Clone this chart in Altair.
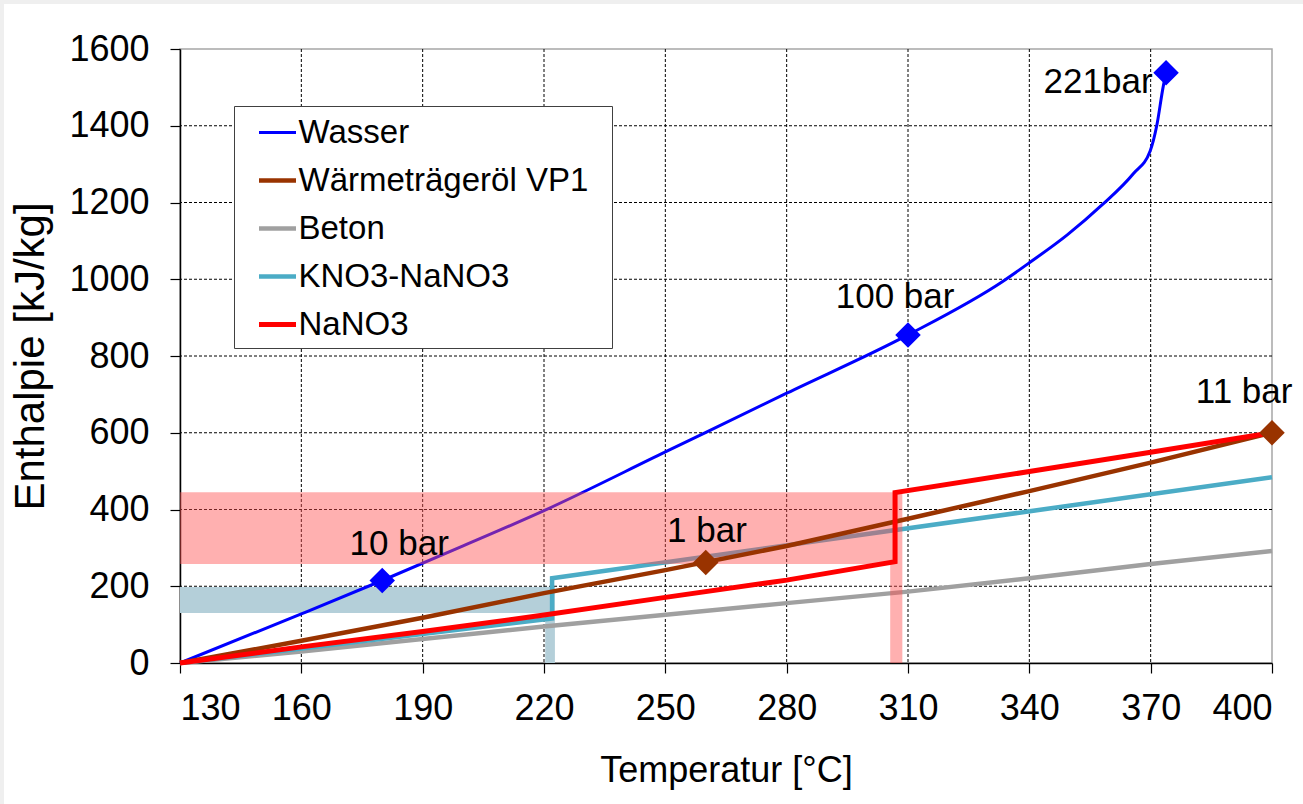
import altair as alt
import pandas as pd

# ---------------- data ----------------
series_names = ["Wasser", "Wärmeträgeröl VP1", "Beton", "KNO3-NaNO3", "NaNO3"]
series_colors = ["#0000ff", "#993300", "#a0a0a0", "#4bacc6", "#ff0000"]
series_widths = [3.0, 4.5, 4.5, 4.5, 5.0]

wasser_T = [130, 160, 180, 200, 220, 250, 280, 310, 333.5, 340, 349.3, 357.9, 365.7, 369.9, 371.5, 373.1, 373.8]
wasser_H = [0, 128, 215, 305, 397, 550, 703, 855, 995, 1043, 1115, 1193, 1275, 1335, 1400, 1502, 1538]

vp1_T = [130, 160, 190, 220, 250, 280, 310, 340, 370, 400]
vp1_H = [0, 58, 118, 182, 242, 305, 376, 448, 522, 600]

beton_T = [130, 160, 220, 280, 310, 340, 370, 400]
beton_H = [0, 30, 95, 156, 186, 221, 258, 292]

kno3_T = [130, 222, 222, 400]
kno3_H = [0, 116, 221, 484]

nano3_T = [130, 160, 190, 220, 250, 280, 306.8, 306.8, 340, 370, 400]
nano3_H = [0, 42, 82, 125, 171, 216, 264, 444, 499, 549, 600]

wasser_mark_T = [180, 310, 373.8]
wasser_mark_H = [215, 855, 1538]
vp1_mark_T = [260, 400]
vp1_mark_H = [262, 600]

pink_T1 = [130, 305.6]
pink_T2 = [308.6, 308.6]
pink_H1 = [258, 0]
pink_H2 = [445, 258]

blue_T1 = [130, 220.3]
blue_T2 = [222.7, 222.7]
blue_H1 = [130, 0]
blue_H2 = [198, 130]

label_text = ["10 bar", "100 bar", "221bar", "1 bar", "11 bar"]
label_T = [184.2, 306.8, 357.0, 260.3, 393.1]
label_H = [310, 954, 1514, 344, 706]

x_ticks = [130, 160, 190, 220, 250, 280, 310, 340, 370, 400]
y_ticks = [0, 200, 400, 600, 800, 1000, 1200, 1400, 1600]
x_grid = [160, 190, 220, 250, 280, 310, 340, 370]
y_grid = [200, 400, 600, 800, 1000, 1200, 1400]

# ---------------- tables ----------------
rows = []
for name, Ts, Hs in [("Wasser", wasser_T, wasser_H),
                     ("Wärmeträgeröl VP1", vp1_T, vp1_H),
                     ("Beton", beton_T, beton_H),
                     ("KNO3-NaNO3", kno3_T, kno3_H),
                     ("NaNO3", nano3_T, nano3_H)]:
    for i, (t, h) in enumerate(zip(Ts, Hs)):
        rows.append({"series": name, "T": t, "H": h, "i": i})
lines = pd.DataFrame(rows)

markers = pd.DataFrame(
    [{"series": "Wasser", "T": t, "H": h} for t, h in zip(wasser_mark_T, wasser_mark_H)]
    + [{"series": "Wärmeträgeröl VP1", "T": t, "H": h} for t, h in zip(vp1_mark_T, vp1_mark_H)]
)
pink = pd.DataFrame({"T1": pink_T1, "T2": pink_T2, "H1": pink_H1, "H2": pink_H2})
blue = pd.DataFrame({"T1": blue_T1, "T2": blue_T2, "H1": blue_H1, "H2": blue_H2})
labels = pd.DataFrame({"text": label_text, "T": label_T, "H": label_H})
xg = pd.DataFrame({"T": x_grid})
yg = pd.DataFrame({"H": y_grid})

W, H = 1092, 614
FONT = "Liberation Sans"

xscale = alt.Scale(domain=[130, 400], nice=False, zero=False)
yscale = alt.Scale(domain=[0, 1600], nice=False)
xaxis = alt.Axis(values=x_ticks, title="Temperatur [°C]", grid=False, labelPadding=18,
                 titlePadding=27, titleFontSize=36, format="d")
yaxis = alt.Axis(values=y_ticks, title="Enthalpie [kJ/kg]", grid=False, labelPadding=21,
                 titlePadding=16, titleFontSize=42, format="d")


def X(f="T"):
    return alt.X(f"{f}:Q", scale=xscale, axis=xaxis)


def Y(f="H"):
    return alt.Y(f"{f}:Q", scale=yscale, axis=yaxis)


PAD = "\u2002" + "\u200b"
LEG = alt.Legend(title=None, labelExpr=f"datum.label + '{PAD}'", labelLimit=0)
color = alt.Color("series:N", scale=alt.Scale(domain=series_names, range=series_colors),
                  legend=LEG)
swidth = alt.StrokeWidth("series:N",
                         scale=alt.Scale(type="ordinal", domain=series_names, range=series_widths),
                         legend=LEG)

# thin light-grey page frame along the top and left edges
frame = alt.Chart(pd.DataFrame({"a": [0]})).mark_rect(
    fill=None, stroke="#efefef", strokeWidth=8
).encode(
    x=alt.value(-180), x2=alt.value(W + 60), y=alt.value(-49), y2=alt.value(H + 180)
)

vgrid = alt.Chart(xg).mark_rule(color="black", strokeWidth=1, strokeDash=[3, 2]).encode(x=X())
hgrid = alt.Chart(yg).mark_rule(color="black", strokeWidth=1, strokeDash=[3, 2]).encode(y=Y())

blue_rect = alt.Chart(blue).mark_rect(color="#b4cfd9").encode(
    x=X("T1"), x2="T2", y=Y("H1"), y2="H2")
pink_rect = alt.Chart(pink).mark_rect(color="#ff5050", opacity=0.45).encode(
    x=X("T1"), x2="T2", y=Y("H1"), y2="H2")


def line_layer(names, interp="linear"):
    return alt.Chart(lines).transform_filter(
        alt.FieldOneOfPredicate(field="series", oneOf=names)
    ).mark_line(interpolate=interp, strokeJoin="miter").encode(
        x=X(), y=Y(), color=color, strokeWidth=swidth, order="i:Q", detail="series:N"
    )


wasser_line = line_layer(["Wasser"], "monotone")
low_lines = line_layer(["Beton", "KNO3-NaNO3"])
top_lines = line_layer(["Wärmeträgeröl VP1", "NaNO3"])

mk = alt.Chart(markers).mark_point(shape="diamond", filled=True, size=650, opacity=1).encode(
    x=X(), y=Y(), color=color)

txt = alt.Chart(labels).mark_text(font=FONT, fontSize=35, color="black", baseline="middle",
                                  align="center").encode(x=X(), y=Y(), text="text:N")

chart = alt.layer(
    frame, vgrid, hgrid, blue_rect, wasser_line, low_lines, pink_rect, top_lines, mk, txt
).properties(
    width=W, height=H,
    autosize=alt.AutoSizeParams(type="none"),
    padding={"left": 180, "top": 49, "right": 31, "bottom": 141},
    background="white",
).configure_view(
    stroke="#a6a6a6", strokeWidth=1.5
).configure_axis(
    labelFont=FONT, labelFontSize=36, labelColor="black",
    titleFont=FONT, titleColor="black", titleFontWeight="normal",
    domainColor="black", domainWidth=1.5, tickColor="black", tickSize=10, tickWidth=1.2,
).configure_legend(
    orient="none", legendX=54, legendY=57, padding=6.5, symbolOffset=16,
    symbolType="stroke", symbolSize=1369, labelOffset=0, rowPadding=10,
    labelFont=FONT, labelFontSize=33, labelColor="black",
    strokeColor="#404040", fillColor="white",
)

chart.save("out.html", embed_options={"renderer": "svg", "actions": False})
